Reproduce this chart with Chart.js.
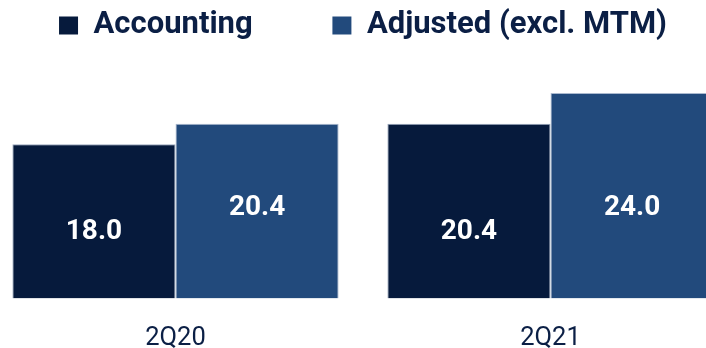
<!DOCTYPE html>
<html>
<head>
<meta charset="utf-8">
<script src="https://cdn.jsdelivr.net/npm/chart.js@4/dist/chart.umd.min.js"></script>
<style>
  html, body { margin: 0; padding: 0; background: #fff; overflow: hidden; }
  #wrap { position: absolute; left: -12px; top: 0; width: 750px; height: 379px; }
</style>
</head>
<body>
<div id="wrap"><canvas id="perfChart"></canvas></div>
<script>
// quarters and the two return measures
const quarters = ['2Q20', '2Q21'];
const accounting = [18.0, 20.4];
const adjusted = [20.4, 24.0];

const NAVY = '#061a3c';
const BLUE = '#224a7c';
const INK = '#0b1f45';

// white value text inside each bar, lifted a set amount above the baseline
const barValues = {
    id: 'barValues',
    afterDatasetsDraw(chart) {
        const ctx = chart.ctx;
        const yScale = chart.scales.y;
        ctx.save();
        ctx.fillStyle = '#ffffff';
        ctx.font = 'bold 28px Roboto';
        ctx.textAlign = 'center';
        ctx.textBaseline = 'middle';
        chart.data.datasets.forEach((ds, i) => {
            chart.getDatasetMeta(i).data.forEach((bar, j) => {
                ctx.fillText(ds.data[j].toFixed(1), bar.x, yScale.getPixelForValue(ds.labelLift));
            });
        });
        ctx.restore();
    }
};

new Chart(document.getElementById('perfChart'), {
    type: 'bar',
    data: {
        labels: quarters,
        datasets: [{
            label: 'Accounting', data: accounting, labelLift: 7.8,
            backgroundColor: NAVY, borderColor: 'rgba(110,130,160,0.7)', borderWidth: 1,
            categoryPercentage: 0.87, barPercentage: 1.0
        }, {
            label: 'Adjusted (excl. MTM)', data: adjusted, labelLift: 10.6,
            backgroundColor: BLUE, borderColor: 'rgba(150,168,195,0.8)', borderWidth: 1,
            categoryPercentage: 0.87, barPercentage: 1.0
        }]
    },
    options: {
        responsive: true, maintainAspectRatio: false, animation: false,
        layout: { padding: { top: 3, bottom: 0 } },
        plugins: {
            legend: {
                position: 'top',
                labels: {
                    color: INK, boxWidth: 19, boxHeight: 18, padding: 7,
                    font: { family: 'Roboto', weight: 'bold', size: 31 },
                    generateLabels(chart) {
                        const items = Chart.defaults.plugins.legend.labels.generateLabels(chart);
                        items[0].text += '\u2003\u2003\u2009\u200a';
                        items.forEach(it => { it.lineWidth = 0; });
                        return items;
                    }
                }
            },
            tooltip: { enabled: false }
        },
        scales: {
            x: {
                grid: { display: false, drawTicks: false },
                border: { display: false },
                ticks: { color: INK, padding: 25, font: { family: 'Roboto', size: 25.5 } }
            },
            y: { display: false, min: 0, max: 28.9 }
        }
    },
    plugins: [barValues]
});
</script>
</body>
</html>
